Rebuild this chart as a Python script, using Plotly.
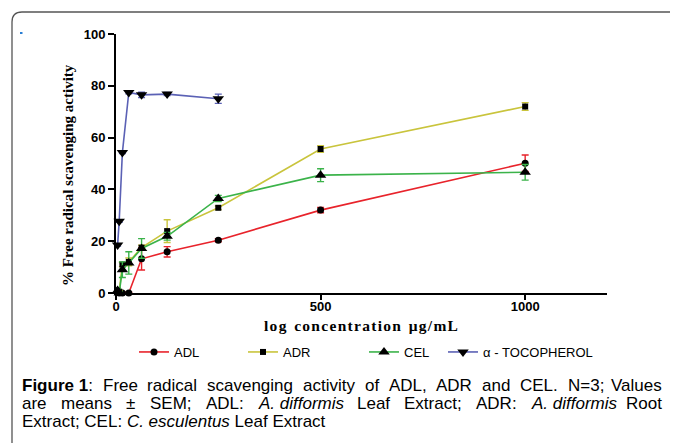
import plotly.graph_objects as go

conc = [3.9, 7.8, 15.6, 31.25, 62.5, 125, 250, 500, 1000]
conc_toco = [3.9, 7.8, 15.6, 31.25, 62.5, 125, 250]

adl = [0.3, 0.0, 0.0, 0.0, 13.2, 15.9, 20.4, 32.0, 50.1]
adl_err = [0.3, 0.3, 0.3, 0.3, 4.3, 2.0, 0.6, 1.0, 3.2]
adr = [1.0, 0.5, 11.0, 12.0, 17.5, 23.9, 32.9, 55.6, 72.0]
adr_err = [0.5, 0.5, 0.8, 1.5, 1.0, 4.4, 0.7, 1.3, 1.5]
cel = [1.0, 0.0, 9.0, 11.6, 17.2, 21.9, 36.5, 45.5, 46.6]
cel_err = [0.5, 0.5, 3.0, 4.3, 3.8, 1.5, 1.2, 2.5, 3.0]
toco = [18.5, 27.7, 54.2, 77.4, 76.5, 76.8, 75.0]
toco_err = [0.4, 0.4, 0.4, 0.5, 1.0, 0.6, 1.8]

names = ["ADL", "ADR", "CEL", "\u03b1 - TOCOPHEROL"]
colors = ["#e8232b", "#c9c43c", "#3bb34a", "#5b61b5"]
symbols = ["circle", "square", "triangle-up", "triangle-down"]
sizes = [7, 6, 10, 10]

# page body has an 8px margin; figure coordinates = reference pixels - OFF
OFF = 8
W, H = 670, 435
L, R, T, B = 108, 71, 26, 150
PW, PH = W - L - R, H - T - B


def px(x):
    return (x - OFF - L) / PW


def py(y):
    return (H - B - (y - OFF)) / PH


fig = go.Figure()
series = [(conc, adl, adl_err), (conc, adr, adr_err), (conc, cel, cel_err), (conc_toco, toco, toco_err)]
legend_pos = [134, 243, 364, 443]
for i, (xs, ys, es) in enumerate(series):
    lg = "legend" if i == 0 else f"legend{i+1}"
    fig.add_trace(go.Scatter(
        x=xs, y=ys, name=names[i], mode="lines+markers",
        line=dict(color=colors[i], width=1.6),
        marker=dict(symbol=symbols[i], size=sizes[i], color="black"),
        error_y=dict(type="data", array=es, color=colors[i], thickness=1.4, width=3.5),
        cliponaxis=False, legend=lg,
    ))

legend_common = dict(orientation="h", xref="container", yref="container",
                     xanchor="left", yanchor="middle",
                     font=dict(family="Liberation Sans", size=13, color="black"),
                     bgcolor="rgba(0,0,0,0)", itemwidth=30)
layout_legends = {}
for i, lx in enumerate(legend_pos):
    key = "legend" if i == 0 else f"legend{i+1}"
    layout_legends[key] = dict(legend_common, x=(lx - OFF) / W, y=1 - (352 - OFF) / H)

tickfont = dict(family="Liberation Sans", size=13, color="black", weight="bold")
fig.update_layout(
    width=W, height=H,
    margin=dict(l=L, r=R, t=T, b=B),
    paper_bgcolor="white", plot_bgcolor="white",
    showlegend=True,
    **layout_legends,
    xaxis=dict(range=[0, 1200], tickvals=[0, 500, 1000], showgrid=False, zeroline=False,
               showline=True, linecolor="black", linewidth=2, ticks="outside", ticklen=5,
               tickwidth=2, tickcolor="black", tickfont=tickfont, ticklabelstandoff=-5),
    yaxis=dict(range=[0, 100], tickvals=[0, 20, 40, 60, 80, 100], showgrid=False, zeroline=False,
               showline=True, linecolor="black", linewidth=2, ticks="outside", ticklen=6,
               tickwidth=2, tickcolor="black", tickfont=tickfont),
)

ann = []
ann.append(dict(text="% Free radical scavenging activity", x=px(68), y=py(175), xref="paper", yref="paper",
                textangle=-90, showarrow=False, xanchor="center", yanchor="middle",
                font=dict(family="Liberation Serif", size=15, color="black", weight="bold")))
xtitle = "log concentration \u03bcg/mL"
xtitle_sp = "\u2002".join("\u200a".join(w) for w in xtitle.split(" "))
ann.append(dict(text=xtitle_sp, x=px(361), y=py(325), xref="paper", yref="paper", showarrow=False,
                xanchor="center", yanchor="middle",
                font=dict(family="Liberation Serif", size=15.5, color="black", weight="bold")))

# approximate Arial / Liberation Sans advance widths (1/1000 em)
REG = {' ': 278, ',': 278, '-': 333, '.': 278, ':': 278, ';': 278, '=': 584, '\u00b1': 584,
       'A': 667, 'C': 722, 'D': 722, 'E': 667, 'F': 611, 'L': 556, 'M': 833, 'N': 722, 'R': 722,
       'S': 667, 'V': 667, 'a': 556, 'b': 556, 'c': 500, 'd': 556, 'e': 556, 'f': 278, 'g': 556,
       'h': 556, 'i': 222, 'l': 222, 'm': 833, 'n': 556, 'o': 556, 'r': 333, 's': 500, 't': 278,
       'u': 556, 'v': 500, 'x': 500, 'y': 500}
BOLD = {'F': 611, 'i': 278, 'g': 611, 'u': 611, 'r': 389, 'e': 556, ' ': 278}
for d in '0123456789':
    REG[d] = 556
    BOLD[d] = 556

CAP_SIZE = 17
CAP_LEFT, CAP_RIGHT = 20, 664

# caption words: (text, style) ; style: r regular, b bold, i italic
cap_lines = [
    ([("Figure 1", "b"), (":", "r"), ("Free", "r"), ("radical", "r"), ("scavenging", "r"), ("activity", "r"),
      ("of", "r"), ("ADL,", "r"), ("ADR", "r"), ("and", "r"), ("CEL.", "r"), ("N=3;", "r"), ("Values", "r")], True),
    ([("are", "r"), ("means", "r"), ("\u00b1", "r"), ("SEM;", "r"), ("ADL:", "r"), ("A. difformis", "i"),
      ("Leaf", "r"), ("Extract;", "r"), ("ADR:", "r"), ("A. difformis", "i"), ("Root", "r")], True),
    ([("Extract; CEL: ", "r"), ("C. esculentus", "i"), (" Leaf Extract", "r")], False),
]


def wtext(s, style):
    tab = BOLD if style == "b" else REG
    return sum(tab.get(c, 556) for c in s) / 1000 * CAP_SIZE


for j, (words, justify) in enumerate(cap_lines):
    y = py(385 + 18 * j)
    if justify:
        groups = [[words[0], words[1]]] + [[w] for w in words[2:]] if j == 0 else [[w] for w in words]
        widths = [sum(wtext(t, s) for t, s in g) for g in groups]
        gap = (CAP_RIGHT - CAP_LEFT - sum(widths)) / (len(groups) - 1)
        xcur = CAP_LEFT
        for gi, g in enumerate(groups):
            html = "".join(f"<b>{t}</b>" if s == "b" else (f"<i>{t}</i>" if s == "i" else t) for t, s in g)
            last = gi == len(groups) - 1
            ann.append(dict(text=html, x=px(CAP_RIGHT if last else xcur), y=y, xref="paper", yref="paper",
                            xanchor="right" if last else "left", yanchor="middle", showarrow=False,
                            font=dict(family="Liberation Sans", size=CAP_SIZE, color="black")))
            xcur += widths[gi] + gap
    else:
        html = "".join(f"<i>{t}</i>" if s == "i" else t for t, s in words)
        ann.append(dict(text=html, x=px(CAP_LEFT), y=y, xref="paper", yref="paper",
                        xanchor="left", yanchor="middle", showarrow=False,
                        font=dict(family="Liberation Sans", size=CAP_SIZE, color="black")))
fig.update_layout(annotations=ann)

r = 10
path = (f"M {px(12)} {py(470)} L {px(12)} {py(12 + r)} Q {px(12)} {py(12)} {px(12 + r)} {py(12)} "
        f"L {px(700)} {py(12)}")
fig.add_shape(type="path", path=path, xref="paper", yref="paper",
              line=dict(color="#555555", width=1.3))
fig.add_shape(type="rect", x0=px(20), x1=px(22.5), y0=py(34), y1=py(32), xref="paper", yref="paper",
              line=dict(width=0), fillcolor="#2a7fd4")

fig.write_html("out.html")
